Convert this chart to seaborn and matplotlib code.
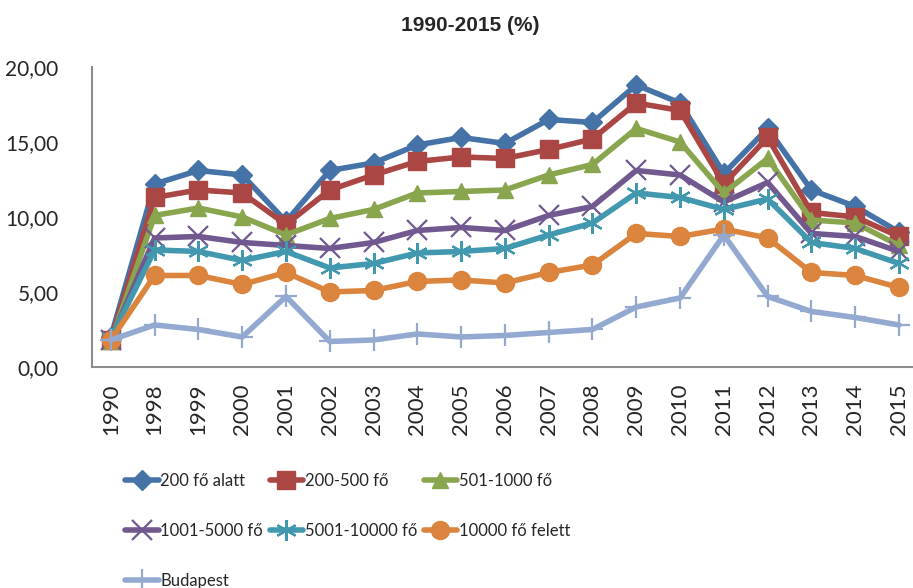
import matplotlib
matplotlib.use("Agg")
import matplotlib.pyplot as plt
import seaborn as sns
import pandas as pd

# years on the category axis
years = ["1990", "1998", "1999", "2000", "2001", "2002", "2003", "2004", "2005",
         "2006", "2007", "2008", "2009", "2010", "2011", "2012", "2013", "2014", "2015"]

# values (%)
s_200_alatt = [2.0, 12.2, 13.1, 12.8, 9.7, 13.1, 13.6, 14.8, 15.3, 14.9, 16.5, 16.3,
               18.8, 17.6, 12.9, 15.9, 11.8, 10.7, 9.0]
s_200_500 = [1.8, 11.3, 11.8, 11.6, 9.5, 11.8, 12.8, 13.7, 14.0, 13.9, 14.5, 15.2,
             17.6, 17.1, 12.2, 15.3, 10.3, 10.0, 8.7]
s_501_1000 = [1.7, 10.1, 10.6, 10.0, 8.8, 9.9, 10.5, 11.6, 11.7, 11.8, 12.8, 13.5,
              15.9, 15.0, 11.6, 13.9, 9.8, 9.6, 8.1]
s_1001_5000 = [1.8, 8.6, 8.7, 8.3, 8.1, 7.9, 8.3, 9.1, 9.3, 9.1, 10.1, 10.7,
               13.1, 12.8, 11.0, 12.3, 8.9, 8.7, 7.7]
s_5001_10000 = [1.9, 7.8, 7.7, 7.1, 7.7, 6.6, 6.9, 7.6, 7.7, 7.9, 8.8, 9.6,
                11.6, 11.3, 10.5, 11.2, 8.3, 7.9, 6.9]
s_10000_felett = [1.8, 6.1, 6.1, 5.5, 6.3, 5.0, 5.1, 5.7, 5.8, 5.6, 6.3, 6.8,
                  8.9, 8.7, 9.2, 8.6, 6.3, 6.1, 5.3]
s_budapest = [1.8, 2.8, 2.5, 2.0, 4.7, 1.7, 1.8, 2.2, 2.0, 2.1, 2.3, 2.5,
              4.0, 4.6, 8.8, 4.7, 3.7, 3.3, 2.8]

labels = ["200 fő alatt", "200-500 fő", "501-1000 fő", "1001-5000 fő",
          "5001-10000 fő", "10000 fő felett", "Budapest"]
series = [s_200_alatt, s_200_500, s_501_1000, s_1001_5000,
          s_5001_10000, s_10000_felett, s_budapest]

colors = ["#4572A7", "#AA4643", "#89A54E", "#71588F", "#4198AF", "#DB843D", "#93A9CF"]
markers = ["D", "s", "^", "x", (6, 2, 0), "o", "+"]
msizes = [10, 13, 12, 14, 15, 13, 16]
mews = [1, 1, 1, 1.6, 1.6, 1, 1.6]

sns.set_style("white")
plt.rcParams["font.family"] = ["Lato", "DejaVu Sans"]

fig = plt.figure(figsize=(9.13, 5.88), dpi=100)
ax = fig.add_axes([0.1008, 0.3759, 0.8992, 0.5102])

pos = list(range(len(years)))
for lab, vals, c, m, ms, mew in zip(labels, series, colors, markers, msizes, mews):
    df = pd.DataFrame({"x": pos, "y": vals})
    sns.lineplot(data=df, x="x", y="y", ax=ax, color=c, linewidth=4.0,
                 marker=m, markersize=ms, markeredgewidth=mew,
                 markeredgecolor=c, label=lab, legend=False)

ax.set_xlim(-0.43, 18.32)
ax.set_ylim(0, 20)
ax.set_xticks(pos)
ax.set_xticklabels(years, rotation=90, fontsize=16)
ax.set_yticks([0, 5, 10, 15, 20])
ax.set_yticklabels(["0,00", "5,00", "10,00", "15,00", "20,00"], fontsize=15)
ax.set_xlabel("")
ax.set_ylabel("")
ax.tick_params(axis="x", length=0, pad=12)
ax.tick_params(axis="y", length=0, pad=24)
for side in ["top", "right"]:
    ax.spines[side].set_visible(False)
for side in ["left", "bottom"]:
    ax.spines[side].set_color("#8c8c8c")
    ax.spines[side].set_linewidth(1.5)

fig.text(0.515, 0.957, "1990-2015 (%)", ha="center", va="center",
         fontsize=15, fontweight="bold",
         family=["Liberation Sans Narrow", "Liberation Sans", "DejaVu Sans"])

# legend filled row by row like the original
handles, hl = ax.get_legend_handles_labels()
order = [0, 3, 6, 1, 4, 2, 5]
fig.legend([handles[i] for i in order], [hl[i] for i in order],
           loc="upper left", bbox_to_anchor=(0.13, 0.207),
           ncol=3, frameon=False, fontsize=12, handlelength=2.0,
           handletextpad=0.1, columnspacing=0.4, labelspacing=2.05,
           numpoints=1, borderaxespad=0)

fig.savefig("out.png", dpi=100)
